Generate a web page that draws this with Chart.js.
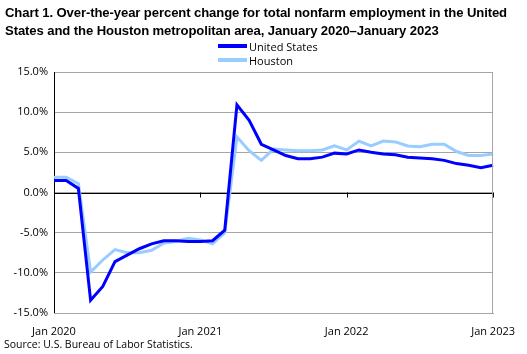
<!DOCTYPE html>
<html>
<head>
<meta charset="utf-8">
<script src="https://cdn.jsdelivr.net/npm/chart.js@4.4.1/dist/chart.umd.min.js"></script>
<style>
  html, body { margin: 0; padding: 0; background: #fff; }
  #wrap { position: relative; width: 527px; height: 354px; overflow: hidden; font-family: "Open Sans", "Liberation Sans", sans-serif; }
  #c { position: absolute; left: 0; top: 0; }
  #title { position: absolute; left: 5px; top: 4px; font-family: "Liberation Sans", Arial, sans-serif; font-weight: bold; font-size: 13.1px; line-height: 18px; color: #000; letter-spacing: -0.1px; white-space: nowrap; }
  #legend { position: absolute; left: 218px; top: 39px; font-size: 11px; color: #000; }
  .li { display: flex; align-items: center; height: 14px; }
  .sw { width: 29px; height: 4px; margin-right: 2px; }
  #source { position: absolute; left: 4px; top: 337px; font-size: 10.5px; color: #000; font-family: "Open Sans", sans-serif; }
</style>
</head>
<body>
<div id="wrap">
  <canvas id="c" width="527" height="354"></canvas>
  <div id="title">Chart 1. Over-the-year percent change for total nonfarm employment in the United<br>States and the Houston metropolitan area, January 2020–January 2023</div>
  <div id="legend"></div>
  <div id="source">Source: U.S. Bureau of Labor Statistics.</div>
</div>
<script>
const months = ["Jan 2020","Feb 2020","Mar 2020","Apr 2020","May 2020","Jun 2020","Jul 2020","Aug 2020","Sep 2020","Oct 2020","Nov 2020","Dec 2020",
  "Jan 2021","Feb 2021","Mar 2021","Apr 2021","May 2021","Jun 2021","Jul 2021","Aug 2021","Sep 2021","Oct 2021","Nov 2021","Dec 2021",
  "Jan 2022","Feb 2022","Mar 2022","Apr 2022","May 2022","Jun 2022","Jul 2022","Aug 2022","Sep 2022","Oct 2022","Nov 2022","Dec 2022",
  "Jan 2023"];
const tickLabels = ["Jan 2020","Jan 2021","Jan 2022","Jan 2023"];
const unitedStates = [1.5,1.5,0.5,-13.4,-11.7,-8.6,-7.8,-7.0,-6.4,-6.0,-6.0,-6.1,
  -6.1,-6.0,-4.7,10.9,9.0,6.0,5.3,4.6,4.2,4.2,4.4,4.9,
  4.8,5.3,5.0,4.8,4.7,4.4,4.3,4.2,4.0,3.6,3.4,3.1,3.4];
const houston = [1.9,1.9,1.1,-9.9,-8.4,-7.1,-7.5,-7.5,-7.2,-6.3,-6.1,-5.7,
  -5.9,-6.4,-5.0,6.9,5.2,4.0,5.4,5.3,5.2,5.2,5.3,5.8,
  5.3,6.4,5.8,6.4,6.3,5.8,5.7,6.0,6.0,5.1,4.6,4.6,4.8];
const seriesNames = ["United States","Houston"];
const seriesColors = ["#0000FF","#99CCFF"];

const legendEl = document.getElementById('legend');
seriesNames.forEach((n,i)=>{
  const d = document.createElement('div'); d.className='li';
  const s = document.createElement('div'); s.className='sw'; s.style.background=seriesColors[i];
  const t = document.createElement('span'); t.textContent=n;
  d.appendChild(s); d.appendChild(t); legendEl.appendChild(d);
});

const axisDecor = {
  id: 'axisDecor',
  beforeDatasetsDraw(chart) {
    const ctx = chart.ctx, x = chart.scales.x, y = chart.scales.y;
    const y0 = y.getPixelForValue(0);
    ctx.save();
    ctx.strokeStyle = '#000'; ctx.lineWidth = 1;
    ctx.beginPath();
    ctx.moveTo(x.left, Math.round(y0)+0.5); ctx.lineTo(x.right, Math.round(y0)+0.5);
    months.forEach((m,i)=>{
      if (tickLabels.includes(m)) {
        const px = Math.round(x.getPixelForValue(i))+0.5;
        ctx.moveTo(px, y0); ctx.lineTo(px, y0+5);
      }
    });
    ctx.stroke();
    ctx.beginPath();
    ctx.moveTo(Math.round(x.left)+0.5, y.top); ctx.lineTo(Math.round(x.left)+0.5, y.bottom);
    ctx.stroke();
    ctx.restore();
  }
};

new Chart(document.getElementById('c'), {
  type: 'line',
  data: {
    labels: months,
    datasets: [
      { label: seriesNames[0], data: unitedStates, borderColor: seriesColors[0], borderWidth: 3, pointRadius: 0, tension: 0, order: 1 },
      { label: seriesNames[1], data: houston, borderColor: seriesColors[1], borderWidth: 3, pointRadius: 0, tension: 0, order: 2 }
    ]
  },
  options: {
    responsive: false,
    animation: false,
    devicePixelRatio: 1,
    layout: { padding: { left: 0, right: 33.5, top: 72, bottom: 0 } },
    plugins: { legend: { display: false }, tooltip: { enabled: false } },
    scales: {
      x: {
        offset: false,
        afterFit(s) { s.height = 41; },
        grid: { display: false, drawTicks: false },
        border: { display: true, color: '#A6A6A6' },
        ticks: {
          autoSkip: false, maxRotation: 0, padding: 12,
          color: '#000', font: { family: 'Open Sans', size: 11 },
          callback(v, i) { return tickLabels.includes(months[i]) ? months[i] : null; }
        }
      },
      y: {
        min: -15, max: 15,
        afterFit(s) { s.width = 54; },
        grid: { color: '#A6A6A6', drawTicks: false },
        border: { display: false },
        ticks: {
          stepSize: 5, padding: 6, color: '#000', font: { family: 'Open Sans', size: 11 },
          callback(v) { return v.toFixed(1) + '%'; }
        }
      }
    }
  },
  plugins: [axisDecor, {
    id: 'rightBorder',
    afterDraw(chart) {
      const ctx = chart.ctx, a = chart.chartArea;
      ctx.save(); ctx.strokeStyle = '#A6A6A6'; ctx.lineWidth = 1;
      ctx.beginPath(); ctx.moveTo(Math.round(a.right)-0.5, a.top); ctx.lineTo(Math.round(a.right)-0.5, a.bottom); ctx.stroke();
      ctx.restore();
    }
  }]
});
</script>
</body>
</html>
